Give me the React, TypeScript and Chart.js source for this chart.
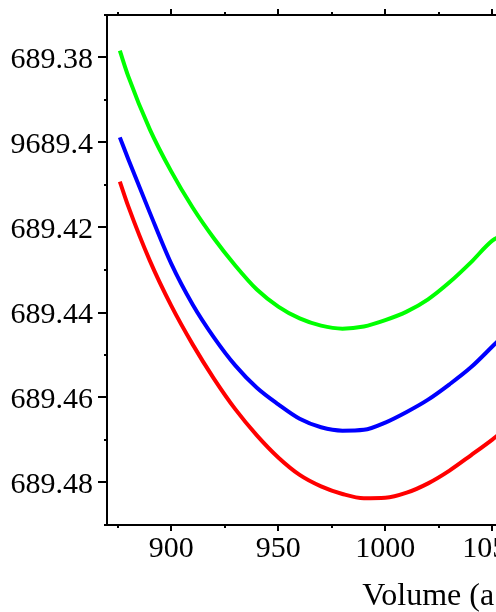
import React, { useEffect, useRef } from "react";
import { Chart, registerables } from "chart.js";

Chart.register(...registerables);

// Volume (x) sample points
const volumes = [876, 880, 890, 900, 910, 920, 930, 940, 950, 960, 970, 980, 990, 1000, 1010, 1020, 1030, 1040, 1050, 1054];

// Energies
const energyGreen = [
  -9689.3784, -9689.3845, -9689.3969, -9689.4068, -9689.4153, -9689.4226, -9689.4290, -9689.4346,
  -9689.4386, -9689.4414, -9689.4431, -9689.4438, -9689.4433, -9689.4418, -9689.4398, -9689.4369,
  -9689.4329, -9689.4282, -9689.4231, -9689.4220,
];
const energyBlue = [
  -9689.3988, -9689.4040, -9689.4165, -9689.4285, -9689.4381, -9689.4459, -9689.4525, -9689.4577,
  -9689.4616, -9689.4650, -9689.4670, -9689.4678, -9689.4676, -9689.4659, -9689.4634, -9689.4605,
  -9689.4569, -9689.4529, -9689.4480, -9689.4460,
];
const energyRed = [
  -9689.4092, -9689.4151, -9689.4278, -9689.4384, -9689.4475, -9689.4556, -9689.4628, -9689.4689,
  -9689.4741, -9689.4782, -9689.4809, -9689.4827, -9689.4837, -9689.4836, -9689.4824, -9689.4802,
  -9689.4772, -9689.4736, -9689.4699, -9689.4683,
];

const yMajorTicks = [-9689.48, -9689.46, -9689.44, -9689.42, -9689.4, -9689.38];
const yMinorTicks = [-9689.49, -9689.47, -9689.45, -9689.43, -9689.41, -9689.39, -9689.37];
const xMajorTicks = [900, 950, 1000, 1050, 1100, 1150];
const xMinorTicks = [875, 925, 975, 1025, 1075, 1125, 1175];

const X_MIN = 870;
const X_MAX = 1190;
const Y_MIN = -9689.49;
const Y_MAX = -9689.37;
const xTitle = "Volume (a.u.)";
// the reference shows only the last 6 characters of each energy label
const Y_LABEL_CHARS = 6;

const FONT = "'Liberation Serif', 'Times New Roman', serif";

const framePlugin = {
  id: "frameTicks",
  afterDraw(chart: any) {
    const { ctx, chartArea: a, scales } = chart;
    const xs = scales.x;
    const ys = scales.y;
    ctx.save();
    ctx.strokeStyle = "#000";
    ctx.lineWidth = 2;
    ctx.strokeRect(a.left, a.top, a.right - a.left, a.bottom - a.top);
    ctx.beginPath();
    for (const v of yMajorTicks) {
      const p = Math.round(ys.getPixelForValue(v));
      ctx.moveTo(a.left - 9, p);
      ctx.lineTo(a.left, p);
      ctx.moveTo(a.right, p);
      ctx.lineTo(a.right + 9, p);
    }
    for (const v of yMinorTicks) {
      const p = Math.round(ys.getPixelForValue(v));
      ctx.moveTo(a.left - 3, p);
      ctx.lineTo(a.left, p);
      ctx.moveTo(a.right, p);
      ctx.lineTo(a.right + 3, p);
    }
    for (const v of xMajorTicks) {
      const p = Math.round(xs.getPixelForValue(v));
      ctx.moveTo(p, a.bottom);
      ctx.lineTo(p, a.bottom + 6);
      ctx.moveTo(p, a.top);
      ctx.lineTo(p, a.top - 6);
    }
    for (const v of xMinorTicks) {
      const p = Math.round(xs.getPixelForValue(v));
      ctx.moveTo(p, a.bottom);
      ctx.lineTo(p, a.bottom + 3);
      ctx.moveTo(p, a.top);
      ctx.lineTo(p, a.top - 3);
    }
    ctx.stroke();
    ctx.restore();
  },
};

export default function App() {
  const ref = useRef<HTMLCanvasElement | null>(null);

  useEffect(() => {
    if (!ref.current) return;
    const mk = (ys: number[]) => volumes.map((v, i) => ({ x: v, y: ys[i] }));
    const ds = (ys: number[], color: string) => ({
      data: mk(ys),
      borderColor: color,
      borderWidth: 4,
      pointRadius: 0,
      cubicInterpolationMode: "monotone" as const,
      fill: false,
    });
    const chart = new Chart(ref.current, {
      type: "line",
      data: {
        datasets: [ds(energyGreen, "#00ff00"), ds(energyBlue, "#0000ff"), ds(energyRed, "#ff0000")],
      },
      options: {
        animation: false,
        responsive: false,
        devicePixelRatio: 1,
        layout: { padding: { top: 15, right: 0, bottom: 0, left: 0 } },
        plugins: { legend: { display: false }, tooltip: { enabled: false } },
        scales: {
          x: {
            type: "linear",
            min: X_MIN,
            max: X_MAX,
            grid: { display: false, drawTicks: false },
            border: { display: false },
            afterBuildTicks: (s: any) => {
              s.ticks = xMajorTicks.map((v) => ({ value: v }));
            },
            afterFit: (s: any) => {
              s.height = 87;
              s.paddingLeft = 0;
              s.paddingRight = 0;
            },
            ticks: {
              padding: 6,
              color: "#000",
              maxRotation: 0,
              autoSkip: false,
              font: { family: FONT, size: 30 },
              callback: (v: any) => String(v),
            },
            title: {
              display: true,
              text: xTitle,
              color: "#000",
              font: { family: FONT, size: 32, lineHeight: 1 },
              padding: { top: 0, bottom: -1 },
            },
          },
          y: {
            type: "linear",
            min: Y_MIN,
            max: Y_MAX,
            grid: { display: false, drawTicks: false },
            border: { display: false },
            afterBuildTicks: (s: any) => {
              s.ticks = yMajorTicks.map((v) => ({ value: v }));
            },
            afterFit: (s: any) => {
              s.width = 127;
              s.paddingTop = 0;
              s.paddingBottom = 0;
            },
            ticks: {
              padding: 14,
              labelOffset: 3,
              color: "#000",
              autoSkip: false,
              font: { family: FONT, size: 30 },
              callback: (v: any) => Number(Number(v).toFixed(2)).toString().slice(-Y_LABEL_CHARS),
            },
          },
        },
      },
      plugins: [framePlugin],
    });
    return () => chart.destroy();
  }, []);

  return (
    <div style={{ position: "fixed", left: 0, top: 0, width: 496, height: 612, overflow: "hidden", background: "#fff" }}>
      <canvas ref={ref} width={812} height={612} style={{ position: "absolute", left: -20, top: 0, width: 812, height: 612 }} />
    </div>
  );
}
